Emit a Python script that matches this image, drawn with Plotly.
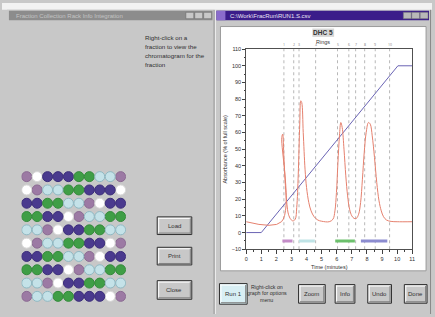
import plotly.graph_objects as go

W, H = 435, 317

# ---------------- chromatogram data ----------------
time_min = [0.0, 2.34, 2.36, 2.42, 2.5, 2.6, 2.7, 2.8, 2.95, 3.1, 3.25, 3.35, 3.45,
            3.55, 3.62, 3.68, 3.78, 3.9, 4.0, 4.15, 4.3, 4.5, 4.75, 5.0, 5.5, 5.75,
            5.88, 5.98, 6.08, 6.18, 6.27, 6.36, 6.48, 6.6, 6.72, 6.85, 7.0, 7.15, 7.3,
            7.45, 7.58, 7.7, 7.82, 7.95, 8.1, 8.22, 8.35, 8.5, 8.65, 8.8, 8.95, 9.1,
            9.3, 9.6, 10.0, 11.0]
absorbance = [6.5, 6.5, 57, 59, 45, 28, 17, 11, 8, 7, 8, 15, 35,
              65, 79, 78, 60, 38, 27, 18, 13, 9.5, 7.5, 6.8, 6.5, 8,
              13, 24, 42, 58, 66, 63, 50, 34, 22, 14, 10, 8.5, 8.5,
              11, 18, 32, 48, 60, 66, 65, 58, 45, 30, 19, 13, 9.5,
              7.5, 6.7, 6.5, 6.5]
gradient_time = [0, 1, 10.05, 11]
gradient_pct = [0, 0, 100, 100]
cut_times = [2.5, 3.15, 3.5, 4.6, 6.05, 6.8, 7.25, 7.85, 8.55, 9.5]
cut_labels = ["1", "2", "3", "4", "5", "6", "7", "8", "9", "10"]
frac_start = [2.4, 3.5, 5.9, 7.6]
frac_end = [3.07, 4.55, 7.2, 9.35]
frac_level = [-5, -5, -5, -5]
frac_colors = ["#c48cc8", "#bfe3e6", "#6cc06c", "#8c8cd0"]
x_ticks = list(range(0, 12))
y_ticks = list(range(-10, 111, 10))

# ---------------- rack data ----------------
rack_rows = [
    "MWPPPGGCCM",
    "WMCCGGPPPW",
    "PPGGCCMWPP",
    "GGPPWMCCGG",
    "CCMWPPGGCC",
    "WMCCGGPPWM",
    "PPGGCCMWPP",
    "GGPPWMCCGG",
    "CCMWPPGGCC",
    "MCCGGPPPWM",
]
well_fill = {"M": "#9c7aa4", "W": "#ffffff", "P": "#4a3a8e", "G": "#3f9e46", "C": "#c4e2e8"}
well_edge = {"M": "#8a6a92", "W": "#d8d8d8", "P": "#3c2e7a", "G": "#348a3c", "C": "#8fb8c2"}


def px(x):
    return x / W


def py(y):
    return 1 - y / H


shapes = []
annotations = []


def rect(x0, y0, x1, y1, fill, line=None, lw=1):
    shapes.append(dict(type="rect", xref="paper", yref="paper",
                       x0=px(x0), x1=px(x1), y0=py(y1), y1=py(y0),
                       fillcolor=fill, layer="below",
                       line=dict(color=line if line else fill, width=lw if line else 0)))


def seg(x0, y0, x1, y1, color, lw=1):
    shapes.append(dict(type="line", xref="paper", yref="paper",
                       x0=px(x0), x1=px(x1), y0=py(y0), y1=py(y1), layer="below",
                       line=dict(color=color, width=lw)))


def text(x, y, s, size=6, color="#303030", xanchor="center", yanchor="middle", angle=0, bold=False):
    if bold:
        s = "<b>" + s + "</b>"
    annotations.append(dict(xref="paper", yref="paper", x=px(x), y=py(y), text=s,
                            showarrow=False, xanchor=xanchor, yanchor=yanchor, textangle=angle,
                            font=dict(family="Liberation Sans, Arial", size=size, color=color)))


def button(x0, y0, x1, y1, label, fill="#c8c8c8"):
    rect(x0, y0, x1, y1, fill, "#303030", 1)
    seg(x0 + 1, y0 + 1.5, x1 - 1.5, y0 + 1.5, "#ffffff", 1)
    seg(x0 + 1.5, y0 + 1, x0 + 1.5, y1 - 1.5, "#ffffff", 1)
    seg(x0 + 1.5, y1 - 1.5, x1 - 1, y1 - 1.5, "#808080", 1)
    seg(x1 - 1.5, y0 + 1.5, x1 - 1.5, y1 - 1, "#808080", 1)
    text((x0 + x1) / 2, (y0 + y1) / 2, label, size=6)


# ---------------- UI chrome ----------------
rect(0, 0, W, 7, "#f2f2f2")
# left window
rect(5, 7, 214, H, "#c8c8c8")
rect(7, 8, 213, 17.5, "#8c8c8c")
text(12, 12.8, "Fraction Collection Rack Info Integration", size=6, color="#c4c4c4", xanchor="left")
for bx in (186, 195, 204):
    rect(bx, 9.5, bx + 8, 16, "#c8c8c8", "#606060", 0.5)
# divider
seg(214.5, 7, 214.5, H, "#9a9a9a", 1)
seg(216, 7, 216, H, "#ececec", 1)
# right window
rect(216.5, 17.5, 433, H, "#c8c8c8")
rect(217, 8, 432, 17.5, "#3b1d8a")
rect(217, 8, 226, 17.5, "#8a6ccc")
text(229, 12.8, "C:\\Work\\FracRun\\RUN1.S.csv", size=6, color="#e8e4f4", xanchor="left")
for bx in (406, 414.5, 423):
    rect(bx, 9.5, bx + 8, 16, "#b8b8b8", "#707070", 0.5)
seg(433.5, 7, 433.5, H, "#8a8a8a", 1)
# white chart panel
rect(221, 24, 429, 273, "#ffffff", "#9a9a9a", 1)
rect(314, 26, 336, 34.5, "#d6d6d6")
text(325, 30.3, "DHC 5", size=6.5, color="#303030", bold=True)
text(325, 40, "Rings", size=5.5, color="#404040")

# left instructions
for i, line in enumerate(["Right-click on a", "fraction to view the", "chromatogram for the", "fraction"]):
    text(143, 35 + i * 9.3, line, size=6.2, color="#303030", xanchor="left")

# left buttons
button(157, 218, 192, 236, "Load")
button(157, 249, 192, 267, "Print")
button(157, 283, 192, 302, "Close")

# right bottom controls
button(220, 286, 248, 307, "Run 1", fill="#d8eff4")
for i, line in enumerate(["Right-click on", "graph for options", "menu"]):
    text(268, 289 + i * 6.8, line, size=5.3, color="#303030")
button(300, 287, 327, 306, "Zoom")
button(337, 287, 357, 306, "Info")
button(370, 287, 394, 306, "Undo")
button(407, 287, 430, 306, "Done")

# axis titles
text(226, 149, "Absorbance (% of full scale)", size=5.5, color="#303030", angle=-90)
text(331, 269, "Time (minutes)", size=5.5, color="#303030")

# ---------------- traces ----------------
fig = go.Figure()

cx, cy = [], []
for t in cut_times:
    cx += [t, t, None]
    cy += [-10, 110, None]
fig.add_trace(go.Scatter(x=cx, y=cy, mode="lines", hoverinfo="skip",
                         line=dict(color="#9a9a9a", width=0.7, dash="dot"), showlegend=False))
for t, lab in zip(cut_times, cut_labels):
    annotations.append(dict(xref="x", yref="y", x=t, y=110, text=lab, showarrow=False,
                            yanchor="bottom", font=dict(size=3.5, color="#808080")))

for s, e, lv, c in zip(frac_start, frac_end, frac_level, frac_colors):
    fig.add_trace(go.Scatter(x=[s, e], y=[lv, lv], mode="lines",
                             line=dict(color=c, width=3), showlegend=False))

fig.add_trace(go.Scatter(x=gradient_time, y=gradient_pct, mode="lines",
                         line=dict(color="#6a64b4", width=1), showlegend=False))
fig.add_trace(go.Scatter(x=time_min, y=absorbance, mode="lines", line_shape="spline",
                         line=dict(color="#e5806e", width=1), showlegend=False))

# rack wells
for code in "MWPGC":
    xs, ys = [], []
    for r, row in enumerate(rack_rows):
        for c, ch in enumerate(row):
            if ch == code:
                xs.append(c + 1)
                ys.append(r + 1)
    fig.add_trace(go.Scatter(x=xs, y=ys, xaxis="x2", yaxis="y2", mode="markers",
                             marker=dict(size=10, color=well_fill[code],
                                         line=dict(color=well_edge[code], width=1)),
                             showlegend=False))

axfont = dict(family="Liberation Sans, Arial", size=5.5, color="#303030")
fig.update_layout(
    width=W, height=H,
    margin=dict(l=0, r=0, t=0, b=0),
    paper_bgcolor="#c8c8c8", plot_bgcolor="rgba(0,0,0,0)",
    shapes=shapes, annotations=annotations,
    xaxis=dict(domain=[247 / W, 415 / W], range=[0, 11], tickvals=x_ticks,
               ticks="outside", ticklen=4, tickwidth=0.7, tickcolor="#404040",
               showline=True, linecolor="#505050", linewidth=0.8, mirror=True,
               showgrid=False, zeroline=False, tickfont=axfont,
               minor=dict(ticks="outside", ticklen=2, dtick=0.5, tickcolor="#404040")),
    yaxis=dict(domain=[(H - 251) / H, (H - 47) / H], range=[-10, 110], tickvals=y_ticks,
               ticks="outside", ticklen=3, tickwidth=0.7, tickcolor="#404040",
               showline=True, linecolor="#505050", linewidth=0.8, mirror=True,
               showgrid=False, zeroline=False, tickfont=axfont,
               minor=dict(ticks="outside", ticklen=1.5, dtick=5, tickcolor="#404040")),
    xaxis2=dict(domain=[19.7 / W, 125.3 / W], range=[0.5, 10.5], visible=False, anchor="y2"),
    yaxis2=dict(domain=[(H - 305.8) / H, (H - 170.2) / H], range=[10.5, 0.5], visible=False, anchor="x2"),
)

fig.write_html("out.html", config={"displayModeBar": False},
               post_script="document.body.style.margin='0';document.body.style.overflow='hidden';")
